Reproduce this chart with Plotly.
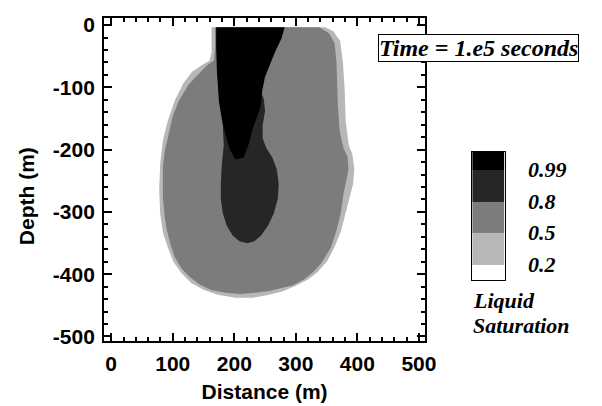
import plotly.graph_objects as go

# ---- data (metres) ----
# 0.2 saturation outline (outer light rim)
rim_x = [163, 163, 160, 147, 131, 117, 103, 92, 84, 79.5, 78, 79.5, 84, 92, 101, 114, 130, 150,
         173, 202, 229, 253, 278, 299, 319, 335, 351, 363, 373, 380, 387, 393, 395, 392, 386, 381,
         379.5, 376.5, 372, 361, 348]
rim_y = [-3.6, -44, -57, -64.5, -75.5, -94, -122, -153.6, -185, -224, -263, -302, -333, -357, -380, -398,
         -414, -425, -433, -438, -438, -434, -428, -419, -409, -397, -379, -356, -332, -306, -279, -255,
         -232, -208, -193, -153.6, -106.7, -60, -25.5, -10, -3.6]

# 0.5 saturation outline (main plume)
plume_x = [168.6, 168.6, 167, 157.6, 149.4, 138, 125.5, 109.6, 100, 93.6, 87.2, 84, 84, 84, 87.2, 90.4, 96.8,
           103, 114.3, 127, 143, 162, 186, 210, 234, 257, 277, 294.5, 313.7, 326.6, 341, 357, 366, 373,
           377.5, 382, 385.5, 384, 377.5, 371, 368, 366, 363, 354, 338]
plume_y = [-3.6, -36, -57, -63, -70.8, -83.3, -95.8, -122.3, -146, -174, -200.5, -227, -255, -279, -310, -330,
           -353.6, -372, -391, -404, -416, -425.5, -430, -431.7, -430, -427, -422, -418, -408, -398, -383,
           -357, -330, -302, -271, -252, -232, -211, -198, -169, -122, -60, -28.6, -13, -3.6]

# 0.8 saturation outline (lower bulb, joined to the column)
bulb_x = [174, 178, 181.3, 182.9, 179.7, 178.1, 178.1, 181.3, 187.7, 197.3, 208.5, 221.2, 232.4, 243.5, 254.7,
          264.3, 270.7, 272.2, 269, 262, 252, 246, 246, 250, 248, 240]
bulb_y = [-100, -130, -161.4, -192.7, -224, -255, -278.6, -302, -322.3, -338, -347.3, -350.5, -347.3, -338,
          -322.3, -302, -278.6, -255, -231.7, -213, -197.3, -181.7, -161.4, -138, -119.2, -100]

# 0.99 saturation outline (near-saturated column)
core_x = [170.5, 281.8, 277, 265.8, 249.9, 245.1, 243, 236, 229, 223, 215, 202, 193, 186.1, 179.7,
          175, 171.8, 170.5]
core_y = [-3.6, -3.6, -20.8, -44, -83.3, -106.7, -130.2, -150.5, -169.2, -192.7, -213, -216, -200.5, -177,
          -150.5, -122.3, -75.5, -36.4]

level_labels = ["0.2", "0.5", "0.8", "0.99"]
level_pos = [1, 2, 3, 4]
band_colors = ["#ffffff", "#b7b7b7", "#7c7c7c", "#262626", "#000000"]
band_edges = [0.5, 1, 2, 3, 4, 4.57]

x_ticks = [0, 100, 200, 300, 400, 500]
y_ticks = [0, -100, -200, -300, -400, -500]

W, H = 602, 406

fig = go.Figure()

regions = [(rim_x, rim_y, band_colors[1], "0.2"),
           (plume_x, plume_y, band_colors[2], "0.5"),
           (bulb_x, bulb_y, band_colors[3], "0.8"),
           (core_x, core_y, band_colors[4], "0.99")]
for xs, ys, col, name in regions:
    fig.add_trace(go.Scatter(x=xs + xs[:1], y=ys + ys[:1], mode="lines", fill="toself",
                             fillcolor=col, line=dict(width=0, color=col), name=name,
                             hoverinfo="skip", showlegend=False, xaxis="x", yaxis="y"))

# legend bar
n = len(band_colors)
cs = []
for i, c in enumerate(band_colors):
    cs.append([i / n, c])
    cs.append([(i + 1) / n, c])
fig.add_trace(go.Heatmap(z=[[i] for i in range(n)], x=[0, 1], y=band_edges, zmin=-0.5, zmax=n - 0.5,
                         colorscale=cs, showscale=False, xaxis="x2", yaxis="y2", hoverinfo="skip"))

sans = "Liberation Sans, Arial, Helvetica, sans-serif"
serif = "Liberation Serif, Times New Roman, serif"
tick_font = dict(family=sans, size=21, color="black", weight="bold")
ital = dict(family=serif, size=22, color="black", weight="bold", style="italic")
ital_big = dict(family=serif, size=24, color="black", weight="bold", style="italic")

annotations = [
    dict(text="<b>Depth (m)</b>", x=27 / W, y=1 - 198 / H, xref="paper", yref="paper", showarrow=False,
         xanchor="center", yanchor="middle", textangle=-90,
         font=dict(family=sans, size=21, color="black", weight="bold")),
    dict(text="<b><i>Time = 1.e5 seconds</i></b>", x=487 / W, y=1 - 45 / H, xref="paper", yref="paper",
         xanchor="center", yanchor="middle",
         showarrow=False, bordercolor="black", borderwidth=1, borderpad=0, bgcolor="white", font=ital_big),
    dict(text="<b><i>Liquid</i></b>", x=480 / W, y=1 - 305 / H, xref="paper", yref="paper",
         xanchor="left", yanchor="middle", showarrow=False, font=ital),
    dict(text="<b><i>Saturation</i></b>", x=480 / W, y=1 - 330 / H, xref="paper", yref="paper",
         xanchor="left", yanchor="middle", showarrow=False, font=ital),
]
for lab, pos in zip(level_labels, level_pos):
    annotations.append(dict(text="<b><i>%s</i></b>" % lab, x=536 / W, y=pos, xref="paper", yref="y2",
                            xanchor="left", yanchor="middle", showarrow=False, font=ital))

fig.update_layout(
    width=W, height=H, margin=dict(l=0, r=0, t=0, b=0),
    paper_bgcolor="white", plot_bgcolor="white", showlegend=False,
    xaxis=dict(domain=[106 / W, 433 / W], range=[-11.6, 510], tickmode="array", tickvals=x_ticks,
               ticktext=[str(v) for v in x_ticks], ticks="inside", ticklen=8, tickwidth=2,
               tickcolor="black", minor=dict(dtick=20, tick0=0, ticks="inside", ticklen=4, tickwidth=1.5,
                                             tickcolor="black", showgrid=False),
               showline=True, linewidth=2, linecolor="black", mirror="allticks", showgrid=False,
               zeroline=False, tickfont=tick_font, ticklabelstandoff=3, layer="above traces",
               title=dict(text="<b>Distance (m)</b>", standoff=10,
                          font=dict(family=sans, size=21, color="black", weight="bold")),
               anchor="y", fixedrange=True),
    yaxis=dict(domain=[1 - 346 / H, 1 - 14.5 / H], range=[-506.7, 11.2], tickmode="array", tickvals=y_ticks,
               ticktext=[str(v) for v in y_ticks], ticks="inside", ticklen=8, tickwidth=2,
               tickcolor="black", minor=dict(dtick=20, tick0=0, ticks="inside", ticklen=4, tickwidth=1.5,
                                             tickcolor="black", showgrid=False),
               showline=True, linewidth=2, linecolor="black", mirror="allticks", showgrid=False,
               zeroline=False, tickfont=tick_font, ticklabelstandoff=3, layer="above traces",
               anchor="x", fixedrange=True),
    xaxis2=dict(domain=[481 / W, 514 / W], range=[0, 1], anchor="y2", showticklabels=False, ticks="",
                showline=True, linewidth=1, linecolor="black", mirror=True, showgrid=False,
                zeroline=False, fixedrange=True),
    yaxis2=dict(domain=[1 - 284 / H, 1 - 152 / H], range=[band_edges[0], band_edges[-1]], anchor="x2",
                side="right", tickmode="array", tickvals=level_pos, showticklabels=False, ticks="",
                showline=True, linewidth=1, linecolor="black", mirror=True,
                showgrid=False, zeroline=False, fixedrange=True),
    annotations=annotations,
)

fig.write_html("out.html")
